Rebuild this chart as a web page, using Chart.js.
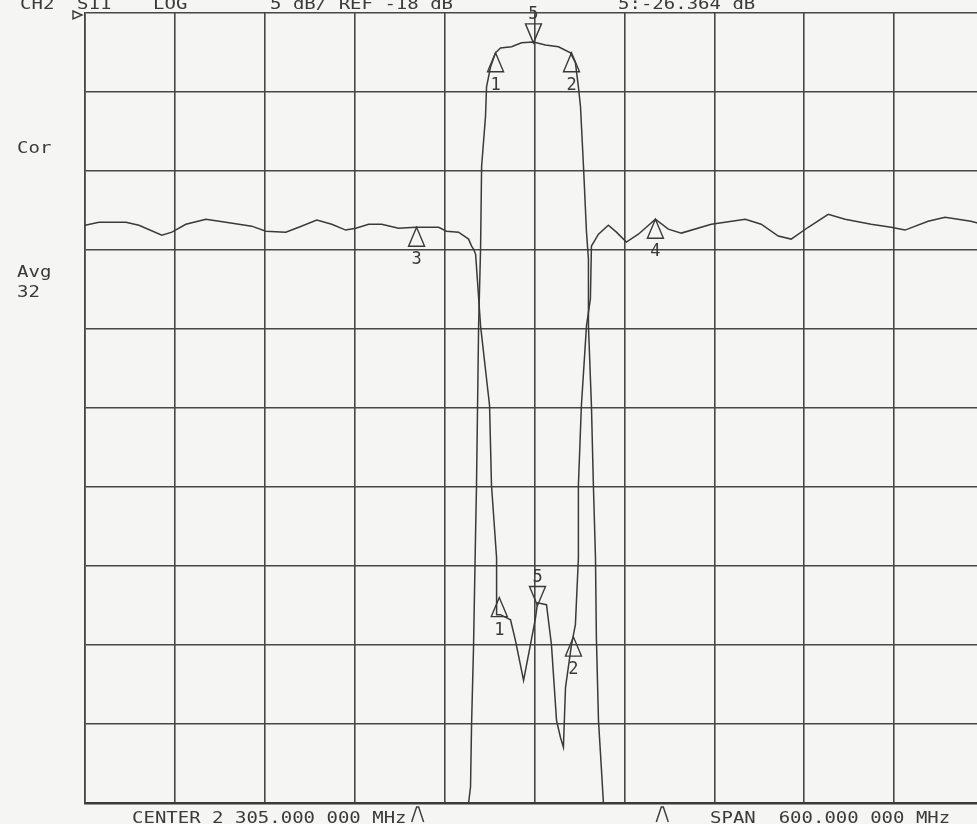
<!DOCTYPE html>
<html>
<head>
<meta charset="utf-8">
<title>CH2 S11 LOG</title>
<script src="https://cdn.jsdelivr.net/npm/chart.js@4.4.1/dist/chart.umd.min.js"></script>
<style>
  html, body { margin: 0; padding: 0; background: #f5f5f3; overflow: hidden; }
  #wrap { position: relative; width: 977px; height: 824px; overflow: hidden; }
  #chart { position: absolute; left: 0; top: 0; }
  .t {
    position: absolute; white-space: pre; color: #3a3a3a;
    font: 19px "DejaVu Sans Mono", monospace; line-height: 19px;
    transform: scaleY(0.88); transform-origin: 0 16px;
  }
</style>
</head>
<body>
<div id="wrap">
  <canvas id="chart" width="1000" height="824"></canvas>

  <div class="t" style="left:20px;top:-7px">CH2</div>
  <div class="t" style="left:77px;top:-7px">S11</div>
  <div class="t" style="left:153px;top:-7px">LOG</div>
  <div class="t" style="left:270px;top:-7px">5 dB/ REF -18 dB</div>
  <div class="t" style="left:618px;top:-7px">5:-26.364 dB</div>

  <div class="t" style="left:17px;top:137px">Cor</div>
  <div class="t" style="left:17px;top:261px">Avg</div>
  <div class="t" style="left:17px;top:281px">32</div>

  <div class="t" style="left:132px;top:807px">CENTER 2 305.000 000 MHz</div>
  <div class="t" style="left:710px;top:807px">SPAN  600.000 000 MHz</div>
</div>

<script>
// sweep: center 2305 MHz, span 600 MHz, 10 divisions
const xGrid = [2005, 2065, 2125, 2185, 2245, 2305, 2365, 2425, 2485, 2545, 2605];
// 5 dB/div, REF -18 dB at top
const yGrid = [-68, -63, -58, -53, -48, -43, -38, -33, -28, -23, -18];
const refLevel = -18;

// transmission trace (MHz, dB)
const s21Freq = [2005, 2261, 2262.3, 2263, 2264.3, 2265.7, 2266.3, 2267, 2267.7, 2269,
  2269.7, 2272.3, 2273, 2275.7, 2279, 2282.3, 2289.7, 2296.3, 2304.3, 2312.3,
  2321, 2329, 2332.3, 2334.3, 2335.7, 2337.7, 2339.7, 2341, 2341, 2343,
  2344.3, 2345.7, 2346.3, 2347.7, 2349.7, 2351, 2605];
const s21Db = [-68, -68, -66.99, -63.02, -58.16, -50.79, -47.89, -42.84, -37.8, -32.94,
  -27.71, -24.56, -22.67, -21.4, -20.52, -20.21, -20.14, -19.89, -19.83, -20.02,
  -20.14, -20.52, -21.15, -22.67, -23.93, -27.71, -31.87, -33.57, -37.8, -42.84,
  -47.89, -52.49, -57.53, -62.77, -65.92, -68, -68];

// reflection trace (MHz, dB)
const s11Freq = [2005, 2014.3, 2032.3, 2041, 2056.3, 2063, 2072.3, 2085.7, 2099, 2116.3,
  2125.7, 2139, 2147.7, 2159.7, 2169.7, 2179, 2185.7, 2194.3, 2203, 2214.3,
  2225.7, 2241, 2246.3, 2254.3, 2261, 2263, 2264.3, 2265.7, 2269, 2275,
  2276.3, 2279.7, 2279.7, 2282.3, 2289, 2292.3, 2297.7, 2302.3, 2305.7, 2307,
  2313, 2316.3, 2319.7, 2322.3, 2324.3, 2325.7, 2329.7, 2332.3, 2334.3, 2334.3,
  2336.3, 2339.7, 2342.3, 2343, 2347.7, 2354.3, 2359.7, 2366.3, 2374.3, 2385.7,
  2394.3, 2403, 2423, 2445.7, 2456.3, 2467.7, 2476.3, 2487.7, 2501, 2512.3,
  2529.7, 2543, 2552.3, 2567.7, 2579, 2596.3, 2605];
const s11Db = [-31.43, -31.24, -31.24, -31.43, -32.06, -31.87, -31.37, -31.05, -31.24, -31.49,
  -31.81, -31.87, -31.56, -31.11, -31.37, -31.74, -31.62, -31.37, -31.37, -31.62,
  -31.56, -31.56, -31.81, -31.87, -32.31, -32.75, -32.94, -33.26, -37.8, -42.84,
  -47.89, -52.49, -56.08, -56.08, -56.4, -57.72, -60.24, -57.97, -56.27, -55.33,
  -55.45, -57.97, -62.77, -63.84, -64.47, -60.68, -57.97, -56.71, -52.49, -47.89,
  -42.84, -37.8, -36.1, -32.75, -32.0, -31.43, -31.87, -32.5, -32.0, -31.05,
  -31.68, -31.93, -31.37, -31.05, -31.37, -32.12, -32.31, -31.56, -30.74, -31.05,
  -31.37, -31.56, -31.74, -31.18, -30.93, -31.18, -31.4];

// markers
const s21MarkerNames = ['1', '5', '2'];
const s21MarkerFreq = [2279, 2304.3, 2329.7];
const s21MarkerDb = [-20.52, -19.89, -20.52];
const s11MarkerNames = ['3', '1', '5', '2', '4'];
const s11MarkerFreq = [2226.3, 2281.5, 2307, 2331, 2385.7];
const s11MarkerDb = [-31.56, -55.0, -55.5, -57.5, -31.05];
// stimulus marks under the graticule
const stimFreq = [2227, 2390.3];

const traceColor = '#3a3a3a';
const gridColor = '#474747';
const textColor = '#3a3a3a';

const toPoints = (fs, ds) => fs.map((f, i) => ({ x: f, y: ds[i] }));

// Draws marker triangles, their numbers, the reference arrow and stimulus marks
const markerPlugin = {
  id: 'markers',
  afterDatasetsDraw(chart) {
    const { ctx, scales: { x, y } } = chart;
    ctx.save();
    ctx.strokeStyle = traceColor;
    ctx.fillStyle = textColor;
    ctx.lineWidth = 1.4;
    ctx.font = '17px "DejaVu Sans Mono", monospace';
    ctx.textAlign = 'center';

    const draw = (names, freqs, dbs) => names.forEach((n, i) => {
      const px = x.getPixelForValue(freqs[i]);
      const py = y.getPixelForValue(dbs[i]);
      const down = n === '5'; // active marker points down
      ctx.beginPath();
      ctx.moveTo(px, py);
      ctx.lineTo(px - 8, down ? py - 19 : py + 19);
      ctx.lineTo(px + 8, down ? py - 19 : py + 19);
      ctx.closePath();
      ctx.stroke();
      ctx.fillText(n, px, down ? py - 24 : py + 37);
    });
    draw(s21MarkerNames, s21MarkerFreq, s21MarkerDb);
    draw(s11MarkerNames, s11MarkerFreq, s11MarkerDb);

    // reference position arrow
    const ry = y.getPixelForValue(refLevel) + 2;
    ctx.beginPath();
    ctx.moveTo(x.left - 12, ry - 4);
    ctx.lineTo(x.left - 3, ry);
    ctx.lineTo(x.left - 12, ry + 4);
    ctx.closePath();
    ctx.stroke();

    // stimulus marks
    stimFreq.forEach(f => {
      const px = x.getPixelForValue(f);
      ctx.beginPath();
      ctx.moveTo(px - 6, y.bottom + 19);
      ctx.lineTo(px - 1, y.bottom + 4);
      ctx.lineTo(px + 1, y.bottom + 4);
      ctx.lineTo(px + 6, y.bottom + 19);
      ctx.stroke();
    });
    ctx.restore();
  }
};

new Chart(document.getElementById('chart'), {
  type: 'line',
  data: {
    datasets: [
      { label: 'S21', data: toPoints(s21Freq, s21Db), borderColor: traceColor,
        borderWidth: 1.5, pointRadius: 0, tension: 0 },
      { label: 'S11', data: toPoints(s11Freq, s11Db), borderColor: traceColor,
        borderWidth: 1.5, pointRadius: 0, tension: 0 }
    ]
  },
  options: {
    responsive: false,
    animation: false,
    layout: { padding: { left: 85, top: 13, right: 16, bottom: 21 } },
    plugins: { legend: { display: false }, tooltip: { enabled: false } },
    scales: {
      x: {
        type: 'linear', min: 2005, max: 2605,
        afterBuildTicks: s => { s.ticks = xGrid.map(v => ({ value: v })); },
        afterFit: s => { s.height = 0; },
        ticks: { display: false },
        grid: { color: gridColor, lineWidth: 1.6, drawTicks: false },
        border: { color: '#3a3a3a', width: 2.6 }
      },
      y: {
        min: -68, max: -18,
        afterBuildTicks: s => { s.ticks = yGrid.map(v => ({ value: v })); },
        afterFit: s => { s.width = 0; },
        ticks: { display: false },
        grid: { color: gridColor, lineWidth: 1.6, drawTicks: false },
        border: { color: gridColor, width: 1.6 }
      }
    }
  },
  plugins: [markerPlugin]
});
</script>
</body>
</html>
